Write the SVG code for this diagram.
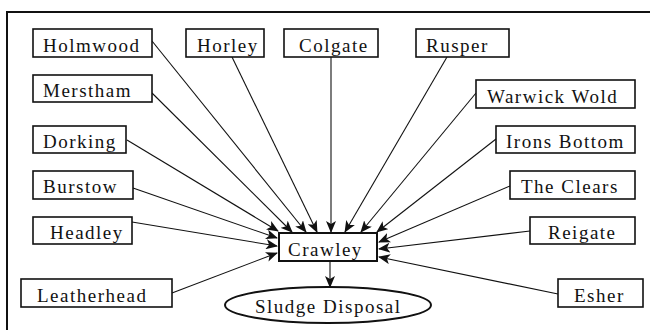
<svg xmlns="http://www.w3.org/2000/svg" width="650" height="330" viewBox="0 0 650 330">
<style>
rect.n{fill:#fff;stroke:#111;stroke-width:1.6}
text{font-family:"Liberation Serif","Times New Roman",serif;font-size:19px;letter-spacing:1.5px;fill:#111}
.e line{stroke:#111;stroke-width:1.1;marker-end:url(#ah)}
</style>
<defs>
<marker id="ah" viewBox="0 0 12 10" refX="11" refY="5" markerWidth="12" markerHeight="10" markerUnits="userSpaceOnUse" orient="auto">
<path d="M0,0 L12,5 L0,10 L3,5 Z" fill="#111"/>
</marker>
</defs>
<rect width="650" height="330" fill="#fff"/>
<g id="frame" fill="none" stroke="#111" stroke-width="2">
<path d="M7,330 V12 H650"/>
</g>
<g id="connectors" class="e">
<line x1="152" y1="41" x2="306" y2="232"/>
<line x1="232" y1="57" x2="317" y2="232"/>
<line x1="331" y1="57" x2="331" y2="232"/>
<line x1="447" y1="57" x2="345" y2="232"/>
<line x1="152" y1="93" x2="292" y2="232"/>
<line x1="476" y1="93" x2="361" y2="232"/>
<line x1="127" y1="140" x2="278" y2="231"/>
<line x1="496" y1="139" x2="377" y2="232"/>
<line x1="133" y1="188" x2="277" y2="238"/>
<line x1="510" y1="186" x2="379" y2="242"/>
<line x1="132" y1="222" x2="277" y2="246"/>
<line x1="530" y1="231" x2="379" y2="249"/>
<line x1="172" y1="293" x2="277" y2="253"/>
<line x1="558" y1="294" x2="379" y2="257"/>
<line x1="330" y1="261" x2="330" y2="287"/>
</g>
<g id="holmwood"><rect class="n" x="33" y="29" width="119" height="28"/><text x="43" y="52">Holmwood</text></g>
<g id="horley"><rect class="n" x="186" y="29" width="78" height="28"/><text x="197" y="52">Horley</text></g>
<g id="colgate"><rect class="n" x="284" y="29" width="94" height="28"/><text x="299" y="52">Colgate</text></g>
<g id="rusper"><rect class="n" x="416" y="29" width="93" height="28"/><text x="426" y="52">Rusper</text></g>
<g id="merstham"><rect class="n" x="33" y="75" width="119" height="27"/><text x="43" y="97">Merstham</text></g>
<g id="warwick-wold"><rect class="n" x="476" y="80" width="159" height="28"/><text x="487" y="103">Warwick Wold</text></g>
<g id="dorking"><rect class="n" x="33" y="126" width="93" height="27"/><text x="43" y="148">Dorking</text></g>
<g id="irons-bottom"><rect class="n" x="496" y="126" width="139" height="27"/><text x="506" y="148">Irons Bottom</text></g>
<g id="burstow"><rect class="n" x="33" y="171" width="100" height="28"/><text x="43" y="193">Burstow</text></g>
<g id="the-clears"><rect class="n" x="510" y="171" width="125" height="28"/><text x="521" y="193">The Clears</text></g>
<g id="headley"><rect class="n" x="33" y="217" width="99" height="27"/><text x="50" y="239">Headley</text></g>
<g id="reigate"><rect class="n" x="530" y="217" width="105" height="27"/><text x="548" y="239">Reigate</text></g>
<g id="leatherhead"><rect class="n" x="21" y="279" width="151" height="28"/><text x="37" y="302">Leatherhead</text></g>
<g id="esher"><rect class="n" x="558" y="279" width="85" height="28"/><text x="574" y="302">Esher</text></g>
<g id="crawley"><rect class="n" x="279" y="233" width="98" height="28" style="stroke-width:2"/><text x="288" y="256">Crawley</text></g>
<g id="sludge-disposal"><ellipse cx="328" cy="305" rx="103" ry="18" fill="#fff" stroke="#111" stroke-width="2"/><text x="255" y="313">Sludge Disposal</text></g>
</svg>
